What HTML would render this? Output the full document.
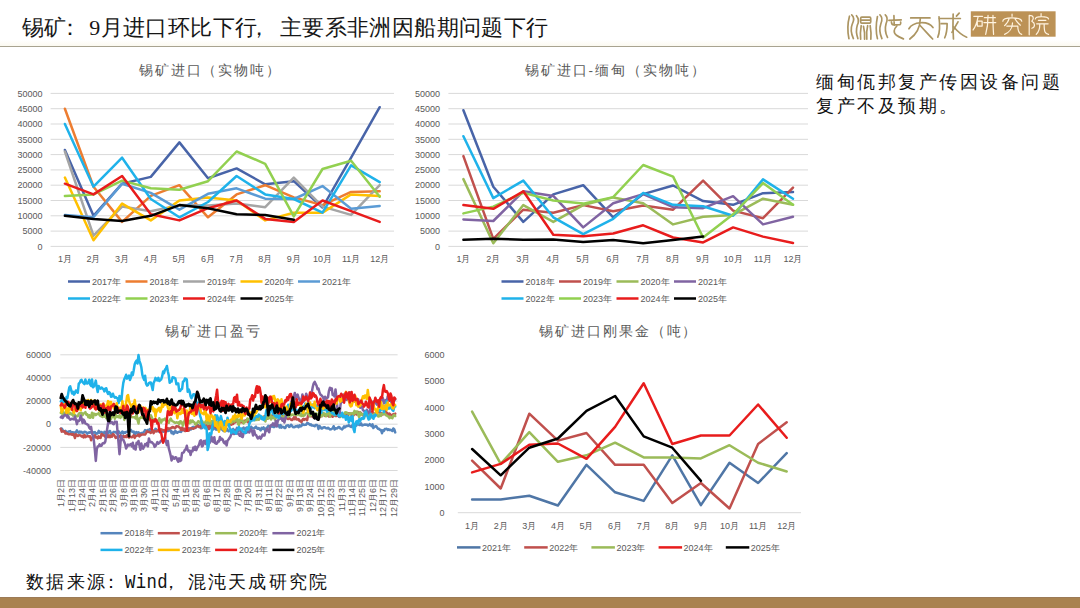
<!DOCTYPE html>
<html><head><meta charset="utf-8"><style>
html,body{margin:0;padding:0;background:#fff;}
body{width:1080px;height:608px;overflow:hidden;position:relative;}
.title{position:absolute;left:22px;top:12.5px;font-family:"Liberation Serif",serif;font-size:22px;line-height:30px;color:#161616;letter-spacing:0.4px;white-space:nowrap;}
.rule{position:absolute;left:0;top:45.5px;width:1080px;height:1.6px;background:#A8A390;}
.note{position:absolute;left:816px;top:69.5px;font-family:"Liberation Serif",serif;font-size:18px;line-height:24px;color:#111;letter-spacing:2.55px;white-space:nowrap;}
.src{position:absolute;left:25.5px;top:569px;font-family:"Liberation Serif",serif;font-size:18px;line-height:26px;color:#111;letter-spacing:2.6px;white-space:nowrap;}
.bar{position:absolute;left:0;top:596.5px;width:1080px;height:11.5px;background:#A98250;border-top:1px solid #9C7B57;box-sizing:border-box;}
.band{position:absolute;left:0;top:40px;width:1080px;height:5.5px;background:linear-gradient(#fff,#FBF9F0);}
svg{position:absolute;left:0;top:0;}
.w{font-family:"Liberation Mono",monospace;font-size:16.5px;letter-spacing:0.3px;display:inline-block;transform:scale(1.05,1.2);transform-origin:0% 70%;}
</style></head><body>
<div class="title">锡矿<span style="margin-left:-8px;margin-right:8px">：</span>9月进口环比下行<span style="margin-left:-9px;margin-right:9px">，</span>主要系非洲因船期问题下行</div>
<div class="band"></div><div class="rule"></div>
<div class="note">缅甸佤邦复产传因设备问题<br>复产不及预期。</div>
<div class="src" style="left:25.5px;letter-spacing:2.5px">数据来源</div><div class="src" id="colon" style="left:101.5px">：</div><div class="src" style="left:124.5px"><span class="w">Wind</span></div><div class="src" id="comma" style="left:161.5px">，</div><div class="src" style="left:187.5px;letter-spacing:2.3px">混沌天成研究院</div>
<div class="bar"></div>
<svg width="1080" height="608" viewBox="0 0 1080 608">
<line x1="50.6" y1="246.4" x2="394.0" y2="246.4" stroke="#D9D9D9" stroke-width="1"/>
<text x="42.5" y="249.6" font-size="9" text-anchor="end" fill="#595959" font-family='"Liberation Sans", sans-serif' >0</text>
<line x1="50.6" y1="231.1" x2="394.0" y2="231.1" stroke="#D9D9D9" stroke-width="1"/>
<text x="42.5" y="234.3" font-size="9" text-anchor="end" fill="#595959" font-family='"Liberation Sans", sans-serif' >5000</text>
<line x1="50.6" y1="215.8" x2="394.0" y2="215.8" stroke="#D9D9D9" stroke-width="1"/>
<text x="42.5" y="219.0" font-size="9" text-anchor="end" fill="#595959" font-family='"Liberation Sans", sans-serif' >10000</text>
<line x1="50.6" y1="200.5" x2="394.0" y2="200.5" stroke="#D9D9D9" stroke-width="1"/>
<text x="42.5" y="203.7" font-size="9" text-anchor="end" fill="#595959" font-family='"Liberation Sans", sans-serif' >15000</text>
<line x1="50.6" y1="185.2" x2="394.0" y2="185.2" stroke="#D9D9D9" stroke-width="1"/>
<text x="42.5" y="188.4" font-size="9" text-anchor="end" fill="#595959" font-family='"Liberation Sans", sans-serif' >20000</text>
<line x1="50.6" y1="169.9" x2="394.0" y2="169.9" stroke="#D9D9D9" stroke-width="1"/>
<text x="42.5" y="173.1" font-size="9" text-anchor="end" fill="#595959" font-family='"Liberation Sans", sans-serif' >25000</text>
<line x1="50.6" y1="154.6" x2="394.0" y2="154.6" stroke="#D9D9D9" stroke-width="1"/>
<text x="42.5" y="157.8" font-size="9" text-anchor="end" fill="#595959" font-family='"Liberation Sans", sans-serif' >30000</text>
<line x1="50.6" y1="139.3" x2="394.0" y2="139.3" stroke="#D9D9D9" stroke-width="1"/>
<text x="42.5" y="142.5" font-size="9" text-anchor="end" fill="#595959" font-family='"Liberation Sans", sans-serif' >35000</text>
<line x1="50.6" y1="124.0" x2="394.0" y2="124.0" stroke="#D9D9D9" stroke-width="1"/>
<text x="42.5" y="127.2" font-size="9" text-anchor="end" fill="#595959" font-family='"Liberation Sans", sans-serif' >40000</text>
<line x1="50.6" y1="108.7" x2="394.0" y2="108.7" stroke="#D9D9D9" stroke-width="1"/>
<text x="42.5" y="111.9" font-size="9" text-anchor="end" fill="#595959" font-family='"Liberation Sans", sans-serif' >45000</text>
<line x1="50.6" y1="93.4" x2="394.0" y2="93.4" stroke="#D9D9D9" stroke-width="1"/>
<text x="42.5" y="96.6" font-size="9" text-anchor="end" fill="#595959" font-family='"Liberation Sans", sans-serif' >50000</text>
<text x="64.9" y="261.8" font-size="9" text-anchor="middle" fill="#595959" font-family='"Liberation Sans", sans-serif' >1月</text>
<text x="93.5" y="261.8" font-size="9" text-anchor="middle" fill="#595959" font-family='"Liberation Sans", sans-serif' >2月</text>
<text x="122.1" y="261.8" font-size="9" text-anchor="middle" fill="#595959" font-family='"Liberation Sans", sans-serif' >3月</text>
<text x="150.8" y="261.8" font-size="9" text-anchor="middle" fill="#595959" font-family='"Liberation Sans", sans-serif' >4月</text>
<text x="179.4" y="261.8" font-size="9" text-anchor="middle" fill="#595959" font-family='"Liberation Sans", sans-serif' >5月</text>
<text x="208.0" y="261.8" font-size="9" text-anchor="middle" fill="#595959" font-family='"Liberation Sans", sans-serif' >6月</text>
<text x="236.6" y="261.8" font-size="9" text-anchor="middle" fill="#595959" font-family='"Liberation Sans", sans-serif' >7月</text>
<text x="265.2" y="261.8" font-size="9" text-anchor="middle" fill="#595959" font-family='"Liberation Sans", sans-serif' >8月</text>
<text x="293.8" y="261.8" font-size="9" text-anchor="middle" fill="#595959" font-family='"Liberation Sans", sans-serif' >9月</text>
<text x="322.5" y="261.8" font-size="9" text-anchor="middle" fill="#595959" font-family='"Liberation Sans", sans-serif' >10月</text>
<text x="351.1" y="261.8" font-size="9" text-anchor="middle" fill="#595959" font-family='"Liberation Sans", sans-serif' >11月</text>
<text x="379.7" y="261.8" font-size="9" text-anchor="middle" fill="#595959" font-family='"Liberation Sans", sans-serif' >12月</text>
<polyline points="64.9,150.0 93.5,215.8 122.1,183.7 150.8,176.9 179.4,142.4 208.0,178.2 236.6,168.4 265.2,184.3 293.8,181.2 322.5,207.5 351.1,157.7 379.7,107.2" fill="none" stroke="#4864A8" stroke-width="2.5" stroke-linejoin="round" stroke-linecap="round"/>
<polyline points="64.9,108.7 93.5,186.7 122.1,221.9 150.8,195.9 179.4,185.2 208.0,217.3 236.6,194.4 265.2,185.2 293.8,197.4 322.5,205.1 351.1,191.9 379.7,191.3" fill="none" stroke="#ED7D31" stroke-width="2.5" stroke-linejoin="round" stroke-linecap="round"/>
<polyline points="64.9,151.5 93.5,235.7 122.1,206.6 150.8,211.2 179.4,205.1 208.0,205.4 236.6,203.6 265.2,207.2 293.8,177.6 322.5,206.6 351.1,214.9 379.7,185.2" fill="none" stroke="#A5A5A5" stroke-width="2.5" stroke-linejoin="round" stroke-linecap="round"/>
<polyline points="64.9,177.6 93.5,240.3 122.1,203.6 150.8,220.4 179.4,200.5 208.0,197.4 236.6,200.5 265.2,220.4 293.8,212.7 322.5,212.7 351.1,194.4 379.7,195.9" fill="none" stroke="#FFC000" stroke-width="2.5" stroke-linejoin="round" stroke-linecap="round"/>
<polyline points="64.9,214.9 93.5,217.3 122.1,183.7 150.8,192.9 179.4,209.7 208.0,193.8 236.6,188.3 265.2,198.7 293.8,199.0 322.5,186.1 351.1,208.8 379.7,206.0" fill="none" stroke="#5B9BD5" stroke-width="2.5" stroke-linejoin="round" stroke-linecap="round"/>
<polyline points="64.9,124.0 93.5,186.7 122.1,157.7 150.8,199.0 179.4,217.3 208.0,202.0 236.6,176.0 265.2,194.4 293.8,199.0 322.5,212.7 351.1,165.3 379.7,182.1" fill="none" stroke="#1FB2EA" stroke-width="2.5" stroke-linejoin="round" stroke-linecap="round"/>
<polyline points="64.9,195.9 93.5,194.4 122.1,180.6 150.8,188.3 179.4,189.8 208.0,181.2 236.6,151.5 265.2,163.8 293.8,216.4 322.5,169.0 351.1,160.7 379.7,196.8" fill="none" stroke="#92D050" stroke-width="2.5" stroke-linejoin="round" stroke-linecap="round"/>
<polyline points="64.9,183.7 93.5,194.4 122.1,176.0 150.8,214.3 179.4,220.4 208.0,208.2 236.6,200.5 265.2,218.9 293.8,221.9 322.5,200.5 351.1,211.2 379.7,221.9" fill="none" stroke="#E81C1C" stroke-width="2.5" stroke-linejoin="round" stroke-linecap="round"/>
<polyline points="64.9,215.8 93.5,218.9 122.1,221.0 150.8,215.8 179.4,205.1 208.0,208.2 236.6,214.3 265.2,214.9 293.8,219.8" fill="none" stroke="#000000" stroke-width="2.5" stroke-linejoin="round" stroke-linecap="round"/>
<text x="139.0" y="75.0" font-size="13.5" text-anchor="start" fill="#595959" font-family='"Liberation Sans", sans-serif' letter-spacing="1.85">锡矿进口（实物吨）</text>
<line x1="68.0" y1="281.5" x2="90.0" y2="281.5" stroke="#4864A8" stroke-width="2.5"/>
<text x="92.0" y="284.7" font-size="9" text-anchor="start" fill="#595959" font-family='"Liberation Sans", sans-serif' >2017年</text>
<line x1="125.5" y1="281.5" x2="147.5" y2="281.5" stroke="#ED7D31" stroke-width="2.5"/>
<text x="149.5" y="284.7" font-size="9" text-anchor="start" fill="#595959" font-family='"Liberation Sans", sans-serif' >2018年</text>
<line x1="183.0" y1="281.5" x2="205.0" y2="281.5" stroke="#A5A5A5" stroke-width="2.5"/>
<text x="207.0" y="284.7" font-size="9" text-anchor="start" fill="#595959" font-family='"Liberation Sans", sans-serif' >2019年</text>
<line x1="240.5" y1="281.5" x2="262.5" y2="281.5" stroke="#FFC000" stroke-width="2.5"/>
<text x="264.5" y="284.7" font-size="9" text-anchor="start" fill="#595959" font-family='"Liberation Sans", sans-serif' >2020年</text>
<line x1="298.0" y1="281.5" x2="320.0" y2="281.5" stroke="#5B9BD5" stroke-width="2.5"/>
<text x="322.0" y="284.7" font-size="9" text-anchor="start" fill="#595959" font-family='"Liberation Sans", sans-serif' >2021年</text>
<line x1="68.0" y1="298.5" x2="90.0" y2="298.5" stroke="#1FB2EA" stroke-width="2.5"/>
<text x="92.0" y="301.7" font-size="9" text-anchor="start" fill="#595959" font-family='"Liberation Sans", sans-serif' >2022年</text>
<line x1="125.5" y1="298.5" x2="147.5" y2="298.5" stroke="#92D050" stroke-width="2.5"/>
<text x="149.5" y="301.7" font-size="9" text-anchor="start" fill="#595959" font-family='"Liberation Sans", sans-serif' >2023年</text>
<line x1="183.0" y1="298.5" x2="205.0" y2="298.5" stroke="#E81C1C" stroke-width="2.5"/>
<text x="207.0" y="301.7" font-size="9" text-anchor="start" fill="#595959" font-family='"Liberation Sans", sans-serif' >2024年</text>
<line x1="240.5" y1="298.5" x2="262.5" y2="298.5" stroke="#000000" stroke-width="2.5"/>
<text x="264.5" y="301.7" font-size="9" text-anchor="start" fill="#595959" font-family='"Liberation Sans", sans-serif' >2025年</text>
<line x1="448.4" y1="246.4" x2="808.0" y2="246.4" stroke="#D9D9D9" stroke-width="1"/>
<text x="440.0" y="249.6" font-size="9" text-anchor="end" fill="#595959" font-family='"Liberation Sans", sans-serif' >0</text>
<line x1="448.4" y1="231.1" x2="808.0" y2="231.1" stroke="#D9D9D9" stroke-width="1"/>
<text x="440.0" y="234.3" font-size="9" text-anchor="end" fill="#595959" font-family='"Liberation Sans", sans-serif' >5000</text>
<line x1="448.4" y1="215.8" x2="808.0" y2="215.8" stroke="#D9D9D9" stroke-width="1"/>
<text x="440.0" y="219.0" font-size="9" text-anchor="end" fill="#595959" font-family='"Liberation Sans", sans-serif' >10000</text>
<line x1="448.4" y1="200.5" x2="808.0" y2="200.5" stroke="#D9D9D9" stroke-width="1"/>
<text x="440.0" y="203.7" font-size="9" text-anchor="end" fill="#595959" font-family='"Liberation Sans", sans-serif' >15000</text>
<line x1="448.4" y1="185.2" x2="808.0" y2="185.2" stroke="#D9D9D9" stroke-width="1"/>
<text x="440.0" y="188.4" font-size="9" text-anchor="end" fill="#595959" font-family='"Liberation Sans", sans-serif' >20000</text>
<line x1="448.4" y1="169.9" x2="808.0" y2="169.9" stroke="#D9D9D9" stroke-width="1"/>
<text x="440.0" y="173.1" font-size="9" text-anchor="end" fill="#595959" font-family='"Liberation Sans", sans-serif' >25000</text>
<line x1="448.4" y1="154.6" x2="808.0" y2="154.6" stroke="#D9D9D9" stroke-width="1"/>
<text x="440.0" y="157.8" font-size="9" text-anchor="end" fill="#595959" font-family='"Liberation Sans", sans-serif' >30000</text>
<line x1="448.4" y1="139.3" x2="808.0" y2="139.3" stroke="#D9D9D9" stroke-width="1"/>
<text x="440.0" y="142.5" font-size="9" text-anchor="end" fill="#595959" font-family='"Liberation Sans", sans-serif' >35000</text>
<line x1="448.4" y1="124.0" x2="808.0" y2="124.0" stroke="#D9D9D9" stroke-width="1"/>
<text x="440.0" y="127.2" font-size="9" text-anchor="end" fill="#595959" font-family='"Liberation Sans", sans-serif' >40000</text>
<line x1="448.4" y1="108.7" x2="808.0" y2="108.7" stroke="#D9D9D9" stroke-width="1"/>
<text x="440.0" y="111.9" font-size="9" text-anchor="end" fill="#595959" font-family='"Liberation Sans", sans-serif' >45000</text>
<line x1="448.4" y1="93.4" x2="808.0" y2="93.4" stroke="#D9D9D9" stroke-width="1"/>
<text x="440.0" y="96.6" font-size="9" text-anchor="end" fill="#595959" font-family='"Liberation Sans", sans-serif' >50000</text>
<text x="463.4" y="261.8" font-size="9" text-anchor="middle" fill="#595959" font-family='"Liberation Sans", sans-serif' >1月</text>
<text x="493.3" y="261.8" font-size="9" text-anchor="middle" fill="#595959" font-family='"Liberation Sans", sans-serif' >2月</text>
<text x="523.3" y="261.8" font-size="9" text-anchor="middle" fill="#595959" font-family='"Liberation Sans", sans-serif' >3月</text>
<text x="553.3" y="261.8" font-size="9" text-anchor="middle" fill="#595959" font-family='"Liberation Sans", sans-serif' >4月</text>
<text x="583.2" y="261.8" font-size="9" text-anchor="middle" fill="#595959" font-family='"Liberation Sans", sans-serif' >5月</text>
<text x="613.2" y="261.8" font-size="9" text-anchor="middle" fill="#595959" font-family='"Liberation Sans", sans-serif' >6月</text>
<text x="643.2" y="261.8" font-size="9" text-anchor="middle" fill="#595959" font-family='"Liberation Sans", sans-serif' >7月</text>
<text x="673.1" y="261.8" font-size="9" text-anchor="middle" fill="#595959" font-family='"Liberation Sans", sans-serif' >8月</text>
<text x="703.1" y="261.8" font-size="9" text-anchor="middle" fill="#595959" font-family='"Liberation Sans", sans-serif' >9月</text>
<text x="733.1" y="261.8" font-size="9" text-anchor="middle" fill="#595959" font-family='"Liberation Sans", sans-serif' >10月</text>
<text x="763.0" y="261.8" font-size="9" text-anchor="middle" fill="#595959" font-family='"Liberation Sans", sans-serif' >11月</text>
<text x="793.0" y="261.8" font-size="9" text-anchor="middle" fill="#595959" font-family='"Liberation Sans", sans-serif' >12月</text>
<polyline points="463.4,110.2 493.3,186.7 523.3,221.9 553.3,194.4 583.2,185.2 613.2,217.3 643.2,194.1 673.1,185.5 703.1,201.1 733.1,204.8 763.0,193.2 793.0,191.9" fill="none" stroke="#4864A8" stroke-width="2.5" stroke-linejoin="round" stroke-linecap="round"/>
<polyline points="463.4,156.1 493.3,238.8 523.3,209.7 553.3,212.7 583.2,205.1 613.2,211.2 643.2,205.4 673.1,209.7 703.1,180.6 733.1,210.6 763.0,218.2 793.0,187.6" fill="none" stroke="#C0504D" stroke-width="2.5" stroke-linejoin="round" stroke-linecap="round"/>
<polyline points="463.4,179.1 493.3,243.3 523.3,205.1 553.3,221.9 583.2,205.1 613.2,197.4 643.2,203.3 673.1,224.4 703.1,216.7 733.1,214.9 763.0,198.7 793.0,204.8" fill="none" stroke="#9BBB59" stroke-width="2.5" stroke-linejoin="round" stroke-linecap="round"/>
<polyline points="463.4,219.5 493.3,221.0 523.3,191.3 553.3,195.9 583.2,227.4 613.2,203.3 643.2,194.1 673.1,207.2 703.1,208.2 733.1,196.2 763.0,224.4 793.0,216.7" fill="none" stroke="#8064A2" stroke-width="2.5" stroke-linejoin="round" stroke-linecap="round"/>
<polyline points="463.4,136.2 493.3,198.1 523.3,180.6 553.3,217.3 583.2,234.2 613.2,218.9 643.2,192.9 673.1,204.8 703.1,206.3 733.1,215.8 763.0,179.4 793.0,198.7" fill="none" stroke="#1FB2EA" stroke-width="2.5" stroke-linejoin="round" stroke-linecap="round"/>
<polyline points="463.4,213.4 493.3,206.6 523.3,192.9 553.3,200.5 583.2,203.6 613.2,197.1 643.2,165.0 673.1,176.6 703.1,237.5 733.1,214.3 763.0,183.1 793.0,204.8" fill="none" stroke="#92D050" stroke-width="2.5" stroke-linejoin="round" stroke-linecap="round"/>
<polyline points="463.4,205.1 493.3,208.8 523.3,191.3 553.3,234.8 583.2,236.3 613.2,233.5 643.2,225.3 673.1,237.5 703.1,242.4 733.1,227.4 763.0,236.6 793.0,243.0" fill="none" stroke="#E81C1C" stroke-width="2.5" stroke-linejoin="round" stroke-linecap="round"/>
<polyline points="463.4,239.7 493.3,238.8 523.3,239.7 553.3,239.4 583.2,242.1 613.2,240.0 643.2,243.3 673.1,240.0 703.1,236.6" fill="none" stroke="#000000" stroke-width="2.5" stroke-linejoin="round" stroke-linecap="round"/>
<text x="524.5" y="75.0" font-size="13.5" text-anchor="start" fill="#595959" font-family='"Liberation Sans", sans-serif' letter-spacing="2.0">锡矿进口-缅甸（实物吨）</text>
<line x1="501.5" y1="281.5" x2="523.5" y2="281.5" stroke="#4864A8" stroke-width="2.5"/>
<text x="525.5" y="284.7" font-size="9" text-anchor="start" fill="#595959" font-family='"Liberation Sans", sans-serif' >2018年</text>
<line x1="559.0" y1="281.5" x2="581.0" y2="281.5" stroke="#C0504D" stroke-width="2.5"/>
<text x="583.0" y="284.7" font-size="9" text-anchor="start" fill="#595959" font-family='"Liberation Sans", sans-serif' >2019年</text>
<line x1="616.5" y1="281.5" x2="638.5" y2="281.5" stroke="#9BBB59" stroke-width="2.5"/>
<text x="640.5" y="284.7" font-size="9" text-anchor="start" fill="#595959" font-family='"Liberation Sans", sans-serif' >2020年</text>
<line x1="674.0" y1="281.5" x2="696.0" y2="281.5" stroke="#8064A2" stroke-width="2.5"/>
<text x="698.0" y="284.7" font-size="9" text-anchor="start" fill="#595959" font-family='"Liberation Sans", sans-serif' >2021年</text>
<line x1="501.5" y1="298.5" x2="523.5" y2="298.5" stroke="#1FB2EA" stroke-width="2.5"/>
<text x="525.5" y="301.7" font-size="9" text-anchor="start" fill="#595959" font-family='"Liberation Sans", sans-serif' >2022年</text>
<line x1="559.0" y1="298.5" x2="581.0" y2="298.5" stroke="#92D050" stroke-width="2.5"/>
<text x="583.0" y="301.7" font-size="9" text-anchor="start" fill="#595959" font-family='"Liberation Sans", sans-serif' >2023年</text>
<line x1="616.5" y1="298.5" x2="638.5" y2="298.5" stroke="#E81C1C" stroke-width="2.5"/>
<text x="640.5" y="301.7" font-size="9" text-anchor="start" fill="#595959" font-family='"Liberation Sans", sans-serif' >2024年</text>
<line x1="674.0" y1="298.5" x2="696.0" y2="298.5" stroke="#000000" stroke-width="2.5"/>
<text x="698.0" y="301.7" font-size="9" text-anchor="start" fill="#595959" font-family='"Liberation Sans", sans-serif' >2025年</text>
<text x="444.6" y="515.9" font-size="9" text-anchor="end" fill="#595959" font-family='"Liberation Sans", sans-serif' >0</text>
<text x="444.6" y="489.6" font-size="9" text-anchor="end" fill="#595959" font-family='"Liberation Sans", sans-serif' >1000</text>
<text x="444.6" y="463.3" font-size="9" text-anchor="end" fill="#595959" font-family='"Liberation Sans", sans-serif' >2000</text>
<text x="444.6" y="436.9" font-size="9" text-anchor="end" fill="#595959" font-family='"Liberation Sans", sans-serif' >3000</text>
<text x="444.6" y="410.6" font-size="9" text-anchor="end" fill="#595959" font-family='"Liberation Sans", sans-serif' >4000</text>
<text x="444.6" y="384.3" font-size="9" text-anchor="end" fill="#595959" font-family='"Liberation Sans", sans-serif' >5000</text>
<text x="444.6" y="358.0" font-size="9" text-anchor="end" fill="#595959" font-family='"Liberation Sans", sans-serif' >6000</text>
<line x1="457.8" y1="512.7" x2="801.0" y2="512.7" stroke="#D9D9D9" stroke-width="1"/>
<text x="472.1" y="529.2" font-size="9" text-anchor="middle" fill="#595959" font-family='"Liberation Sans", sans-serif' >1月</text>
<text x="500.7" y="529.2" font-size="9" text-anchor="middle" fill="#595959" font-family='"Liberation Sans", sans-serif' >2月</text>
<text x="529.3" y="529.2" font-size="9" text-anchor="middle" fill="#595959" font-family='"Liberation Sans", sans-serif' >3月</text>
<text x="557.9" y="529.2" font-size="9" text-anchor="middle" fill="#595959" font-family='"Liberation Sans", sans-serif' >4月</text>
<text x="586.5" y="529.2" font-size="9" text-anchor="middle" fill="#595959" font-family='"Liberation Sans", sans-serif' >5月</text>
<text x="615.1" y="529.2" font-size="9" text-anchor="middle" fill="#595959" font-family='"Liberation Sans", sans-serif' >6月</text>
<text x="643.7" y="529.2" font-size="9" text-anchor="middle" fill="#595959" font-family='"Liberation Sans", sans-serif' >7月</text>
<text x="672.3" y="529.2" font-size="9" text-anchor="middle" fill="#595959" font-family='"Liberation Sans", sans-serif' >8月</text>
<text x="700.9" y="529.2" font-size="9" text-anchor="middle" fill="#595959" font-family='"Liberation Sans", sans-serif' >9月</text>
<text x="729.5" y="529.2" font-size="9" text-anchor="middle" fill="#595959" font-family='"Liberation Sans", sans-serif' >10月</text>
<text x="758.1" y="529.2" font-size="9" text-anchor="middle" fill="#595959" font-family='"Liberation Sans", sans-serif' >11月</text>
<text x="786.7" y="529.2" font-size="9" text-anchor="middle" fill="#595959" font-family='"Liberation Sans", sans-serif' >12月</text>
<polyline points="472.1,499.5 500.7,499.5 529.3,495.7 557.9,505.5 586.5,464.8 615.1,492.3 643.7,500.9 672.3,455.3 700.9,505.1 729.5,462.7 758.1,483.0 786.7,453.2" fill="none" stroke="#4F76A6" stroke-width="2.5" stroke-linejoin="round" stroke-linecap="round"/>
<polyline points="472.1,460.6 500.7,488.5 529.3,413.7 557.9,440.6 586.5,433.0 615.1,464.8 643.7,464.8 672.3,503.0 700.9,483.0 729.5,508.5 758.1,444.0 786.7,422.3" fill="none" stroke="#C0504D" stroke-width="2.5" stroke-linejoin="round" stroke-linecap="round"/>
<polyline points="472.1,411.6 500.7,463.9 529.3,432.2 557.9,461.8 586.5,455.3 615.1,442.7 643.7,457.4 672.3,457.4 700.9,458.4 729.5,445.2 758.1,462.7 786.7,471.5" fill="none" stroke="#9BBB59" stroke-width="2.5" stroke-linejoin="round" stroke-linecap="round"/>
<polyline points="472.1,472.4 500.7,463.9 529.3,444.8 557.9,443.5 586.5,458.8 615.1,426.9 643.7,383.2 672.3,444.0 700.9,435.5 729.5,435.5 758.1,404.5 786.7,437.7" fill="none" stroke="#E81C1C" stroke-width="2.5" stroke-linejoin="round" stroke-linecap="round"/>
<polyline points="472.1,449.0 500.7,475.3 529.3,447.7 557.9,438.5 586.5,410.9 615.1,396.0 643.7,436.4 672.3,447.7 700.9,480.9" fill="none" stroke="#000000" stroke-width="2.5" stroke-linejoin="round" stroke-linecap="round"/>
<text x="539.4" y="336.3" font-size="13.5" text-anchor="start" fill="#595959" font-family='"Liberation Sans", sans-serif' letter-spacing="1.9">锡矿进口刚果金（吨）</text>
<line x1="457.0" y1="547.4" x2="480.5" y2="547.4" stroke="#4F76A6" stroke-width="2.5"/>
<text x="482.0" y="550.6" font-size="9" text-anchor="start" fill="#595959" font-family='"Liberation Sans", sans-serif' >2021年</text>
<line x1="524.2" y1="547.4" x2="547.7" y2="547.4" stroke="#C0504D" stroke-width="2.5"/>
<text x="549.2" y="550.6" font-size="9" text-anchor="start" fill="#595959" font-family='"Liberation Sans", sans-serif' >2022年</text>
<line x1="591.4" y1="547.4" x2="614.9" y2="547.4" stroke="#9BBB59" stroke-width="2.5"/>
<text x="616.4" y="550.6" font-size="9" text-anchor="start" fill="#595959" font-family='"Liberation Sans", sans-serif' >2023年</text>
<line x1="658.6" y1="547.4" x2="682.1" y2="547.4" stroke="#E81C1C" stroke-width="2.5"/>
<text x="683.6" y="550.6" font-size="9" text-anchor="start" fill="#595959" font-family='"Liberation Sans", sans-serif' >2024年</text>
<line x1="725.8" y1="547.4" x2="749.3" y2="547.4" stroke="#000000" stroke-width="2.5"/>
<text x="750.8" y="550.6" font-size="9" text-anchor="start" fill="#595959" font-family='"Liberation Sans", sans-serif' >2025年</text>
<line x1="60.3" y1="354.8" x2="397.6" y2="354.8" stroke="#D9D9D9" stroke-width="1"/>
<text x="51.0" y="358.0" font-size="9" text-anchor="end" fill="#595959" font-family='"Liberation Sans", sans-serif' >60000</text>
<line x1="60.3" y1="377.9" x2="397.6" y2="377.9" stroke="#D9D9D9" stroke-width="1"/>
<text x="51.0" y="381.1" font-size="9" text-anchor="end" fill="#595959" font-family='"Liberation Sans", sans-serif' >40000</text>
<line x1="60.3" y1="401.1" x2="397.6" y2="401.1" stroke="#D9D9D9" stroke-width="1"/>
<text x="51.0" y="404.3" font-size="9" text-anchor="end" fill="#595959" font-family='"Liberation Sans", sans-serif' >20000</text>
<line x1="60.3" y1="424.2" x2="397.6" y2="424.2" stroke="#D9D9D9" stroke-width="1"/>
<text x="51.0" y="427.4" font-size="9" text-anchor="end" fill="#595959" font-family='"Liberation Sans", sans-serif' >0</text>
<line x1="60.3" y1="447.4" x2="397.6" y2="447.4" stroke="#D9D9D9" stroke-width="1"/>
<text x="51.0" y="450.6" font-size="9" text-anchor="end" fill="#595959" font-family='"Liberation Sans", sans-serif' >-20000</text>
<line x1="60.3" y1="470.5" x2="397.6" y2="470.5" stroke="#D9D9D9" stroke-width="1"/>
<text x="51.0" y="473.7" font-size="9" text-anchor="end" fill="#595959" font-family='"Liberation Sans", sans-serif' >-40000</text>
<text transform="translate(64.3,479) rotate(-90)" font-size="9" text-anchor="end" fill="#595959" font-family='"Liberation Sans", sans-serif'>1月2日</text>
<text transform="translate(74.7,479) rotate(-90)" font-size="9" text-anchor="end" fill="#595959" font-family='"Liberation Sans", sans-serif'>1月13日</text>
<text transform="translate(85.1,479) rotate(-90)" font-size="9" text-anchor="end" fill="#595959" font-family='"Liberation Sans", sans-serif'>1月24日</text>
<text transform="translate(95.4,479) rotate(-90)" font-size="9" text-anchor="end" fill="#595959" font-family='"Liberation Sans", sans-serif'>2月4日</text>
<text transform="translate(105.8,479) rotate(-90)" font-size="9" text-anchor="end" fill="#595959" font-family='"Liberation Sans", sans-serif'>2月15日</text>
<text transform="translate(116.2,479) rotate(-90)" font-size="9" text-anchor="end" fill="#595959" font-family='"Liberation Sans", sans-serif'>2月26日</text>
<text transform="translate(126.6,479) rotate(-90)" font-size="9" text-anchor="end" fill="#595959" font-family='"Liberation Sans", sans-serif'>3月8日</text>
<text transform="translate(137.0,479) rotate(-90)" font-size="9" text-anchor="end" fill="#595959" font-family='"Liberation Sans", sans-serif'>3月19日</text>
<text transform="translate(147.3,479) rotate(-90)" font-size="9" text-anchor="end" fill="#595959" font-family='"Liberation Sans", sans-serif'>3月30日</text>
<text transform="translate(157.7,479) rotate(-90)" font-size="9" text-anchor="end" fill="#595959" font-family='"Liberation Sans", sans-serif'>4月11日</text>
<text transform="translate(168.1,479) rotate(-90)" font-size="9" text-anchor="end" fill="#595959" font-family='"Liberation Sans", sans-serif'>4月22日</text>
<text transform="translate(178.5,479) rotate(-90)" font-size="9" text-anchor="end" fill="#595959" font-family='"Liberation Sans", sans-serif'>5月4日</text>
<text transform="translate(188.9,479) rotate(-90)" font-size="9" text-anchor="end" fill="#595959" font-family='"Liberation Sans", sans-serif'>5月15日</text>
<text transform="translate(199.3,479) rotate(-90)" font-size="9" text-anchor="end" fill="#595959" font-family='"Liberation Sans", sans-serif'>5月26日</text>
<text transform="translate(209.6,479) rotate(-90)" font-size="9" text-anchor="end" fill="#595959" font-family='"Liberation Sans", sans-serif'>6月6日</text>
<text transform="translate(220.0,479) rotate(-90)" font-size="9" text-anchor="end" fill="#595959" font-family='"Liberation Sans", sans-serif'>6月17日</text>
<text transform="translate(230.4,479) rotate(-90)" font-size="9" text-anchor="end" fill="#595959" font-family='"Liberation Sans", sans-serif'>6月28日</text>
<text transform="translate(240.8,479) rotate(-90)" font-size="9" text-anchor="end" fill="#595959" font-family='"Liberation Sans", sans-serif'>7月9日</text>
<text transform="translate(251.2,479) rotate(-90)" font-size="9" text-anchor="end" fill="#595959" font-family='"Liberation Sans", sans-serif'>7月20日</text>
<text transform="translate(261.5,479) rotate(-90)" font-size="9" text-anchor="end" fill="#595959" font-family='"Liberation Sans", sans-serif'>7月31日</text>
<text transform="translate(271.9,479) rotate(-90)" font-size="9" text-anchor="end" fill="#595959" font-family='"Liberation Sans", sans-serif'>8月11日</text>
<text transform="translate(282.3,479) rotate(-90)" font-size="9" text-anchor="end" fill="#595959" font-family='"Liberation Sans", sans-serif'>8月22日</text>
<text transform="translate(292.7,479) rotate(-90)" font-size="9" text-anchor="end" fill="#595959" font-family='"Liberation Sans", sans-serif'>9月2日</text>
<text transform="translate(303.1,479) rotate(-90)" font-size="9" text-anchor="end" fill="#595959" font-family='"Liberation Sans", sans-serif'>9月13日</text>
<text transform="translate(313.4,479) rotate(-90)" font-size="9" text-anchor="end" fill="#595959" font-family='"Liberation Sans", sans-serif'>9月24日</text>
<text transform="translate(323.8,479) rotate(-90)" font-size="9" text-anchor="end" fill="#595959" font-family='"Liberation Sans", sans-serif'>10月12日</text>
<text transform="translate(334.2,479) rotate(-90)" font-size="9" text-anchor="end" fill="#595959" font-family='"Liberation Sans", sans-serif'>10月23日</text>
<text transform="translate(344.6,479) rotate(-90)" font-size="9" text-anchor="end" fill="#595959" font-family='"Liberation Sans", sans-serif'>11月3日</text>
<text transform="translate(355.0,479) rotate(-90)" font-size="9" text-anchor="end" fill="#595959" font-family='"Liberation Sans", sans-serif'>11月14日</text>
<text transform="translate(365.4,479) rotate(-90)" font-size="9" text-anchor="end" fill="#595959" font-family='"Liberation Sans", sans-serif'>11月25日</text>
<text transform="translate(375.7,479) rotate(-90)" font-size="9" text-anchor="end" fill="#595959" font-family='"Liberation Sans", sans-serif'>12月6日</text>
<text transform="translate(386.1,479) rotate(-90)" font-size="9" text-anchor="end" fill="#595959" font-family='"Liberation Sans", sans-serif'>12月17日</text>
<text transform="translate(396.5,479) rotate(-90)" font-size="9" text-anchor="end" fill="#595959" font-family='"Liberation Sans", sans-serif'>12月29日</text>
<text x="165.3" y="336.3" font-size="13.5" text-anchor="start" fill="#595959" font-family='"Liberation Sans", sans-serif' letter-spacing="2.1">锡矿进口盈亏</text>
<polyline points="60.8,428.6 61.7,428.4 62.7,429.9 63.6,431.1 64.6,431.8 65.5,430.9 66.5,432.0 67.4,432.7 68.4,431.4 69.3,431.4 70.2,431.1 71.2,432.7 72.1,432.2 73.1,432.3 74.0,433.9 75.0,432.3 75.9,432.4 76.9,430.4 77.8,432.2 78.8,432.8 79.7,431.6 80.7,432.4 81.6,431.8 82.6,433.0 83.5,432.6 84.5,431.7 85.4,431.9 86.4,432.5 87.3,433.8 88.3,432.5 89.2,432.7 90.1,432.1 91.1,432.5 92.0,431.7 93.0,432.7 93.9,432.6 94.9,432.1 95.8,433.8 96.8,433.3 97.7,433.4 98.7,430.9 99.6,432.6 100.6,432.1 101.5,432.0 102.5,432.9 103.4,434.2 104.4,431.9 105.3,432.9 106.3,431.9 107.2,433.8 108.1,433.2 109.1,431.4 110.0,431.0 111.0,433.6 111.9,434.0 112.9,432.7 113.8,431.8 114.8,432.2 115.7,432.1 116.7,433.3 117.6,431.9 118.6,431.2 119.5,432.6 120.5,433.8 121.4,433.2 122.4,431.5 123.3,433.6 124.3,432.2 125.2,432.8 126.1,431.9 127.1,431.8 128.0,431.4 129.0,429.8 129.9,430.5 130.9,429.9 131.8,431.4 132.8,432.1 133.7,431.5 134.7,434.7 135.6,432.5 136.6,432.1 137.5,433.6 138.5,432.3 139.4,433.2 140.4,435.2 141.3,433.0 142.3,433.1 143.2,432.5 144.2,431.8 145.1,430.0 146.0,430.6 147.0,430.6 147.9,429.9 148.9,431.8 149.8,429.1 150.8,431.1 151.7,430.0 152.7,431.4 153.6,431.6 154.6,431.1 155.5,428.8 156.5,429.6 157.4,431.0 158.4,430.9 159.3,431.8 160.3,430.8 161.2,431.2 162.2,430.0 163.1,431.8 164.0,431.1 165.0,431.5 165.9,431.6 166.9,430.4 167.8,430.9 168.8,430.7 169.7,430.3 170.7,430.4 171.6,433.1 172.6,431.7 173.5,434.0 174.5,432.8 175.4,430.8 176.4,432.6 177.3,432.7 178.3,432.0 179.2,431.8 180.2,431.5 181.1,432.0 182.1,430.0 183.0,429.6 183.9,430.4 184.9,429.8 185.8,429.1 186.8,428.4 187.7,428.7 188.7,428.2 189.6,428.9 190.6,429.6 191.5,429.0 192.5,427.2 193.4,426.8 194.4,427.3 195.3,427.9 196.3,427.0 197.2,425.3 198.2,425.1 199.1,427.0 200.1,426.8 201.0,428.2 201.9,428.2 202.9,427.0 203.8,427.0 204.8,426.2 205.7,425.8 206.7,426.3 207.6,426.0 208.6,427.9 209.5,428.8 210.5,427.5 211.4,425.3 212.4,427.4 213.3,429.4 214.3,428.4 215.2,427.3 216.2,429.7 217.1,428.4 218.1,429.7 219.0,428.2 219.9,428.7 220.9,429.3 221.8,427.9 222.8,430.3 223.7,431.0 224.7,428.8 225.6,431.1 226.6,428.4 227.5,430.1 228.5,431.3 229.4,430.4 230.4,430.0 231.3,429.8 232.3,430.1 233.2,428.9 234.2,432.0 235.1,430.6 236.1,430.1 237.0,427.8 238.0,431.2 238.9,430.0 239.8,430.6 240.8,430.1 241.7,428.7 242.7,428.6 243.6,427.5 244.6,429.3 245.5,428.7 246.5,427.6 247.4,427.6 248.4,428.8 249.3,427.5 250.3,429.3 251.2,426.8 252.2,428.1 253.1,428.6 254.1,428.2 255.0,427.6 256.0,426.6 256.9,428.4 257.8,428.8 258.8,428.0 259.7,429.3 260.7,430.3 261.6,427.9 262.6,428.8 263.5,427.4 264.5,429.2 265.4,431.1 266.4,428.1 267.3,427.5 268.3,425.8 269.2,426.4 270.2,426.5 271.1,426.0 272.1,426.7 273.0,426.1 274.0,427.2 274.9,425.3 275.8,426.2 276.8,426.2 277.7,425.4 278.7,425.3 279.6,427.5 280.6,425.1 281.5,427.6 282.5,426.8 283.4,426.9 284.4,427.9 285.3,428.0 286.3,425.7 287.2,425.6 288.2,425.3 289.1,427.0 290.1,426.5 291.0,424.7 292.0,425.6 292.9,427.1 293.9,427.2 294.8,427.0 295.7,426.2 296.7,426.6 297.6,425.8 298.6,427.3 299.5,425.4 300.5,426.4 301.4,426.0 302.4,423.7 303.3,424.8 304.3,424.9 305.2,424.7 306.2,424.7 307.1,423.0 308.1,423.2 309.0,424.0 310.0,424.9 310.9,424.4 311.9,425.6 312.8,425.5 313.7,425.7 314.7,426.3 315.6,425.0 316.6,424.9 317.5,425.5 318.5,429.0 319.4,426.0 320.4,426.9 321.3,428.4 322.3,428.4 323.2,427.4 324.2,427.2 325.1,427.5 326.1,428.2 327.0,428.4 328.0,427.7 328.9,428.5 329.9,429.4 330.8,429.3 331.8,428.8 332.7,428.2 333.6,426.2 334.6,429.5 335.5,428.2 336.5,428.5 337.4,428.2 338.4,427.1 339.3,427.1 340.3,428.4 341.2,428.7 342.2,429.4 343.1,428.0 344.1,426.3 345.0,427.4 346.0,426.4 346.9,426.0 347.9,426.1 348.8,425.2 349.8,426.1 350.7,426.7 351.6,427.0 352.6,424.7 353.5,425.5 354.5,425.5 355.4,424.3 356.4,425.6 357.3,423.1 358.3,423.7 359.2,424.9 360.2,425.0 361.1,423.3 362.1,425.4 363.0,425.3 364.0,424.7 364.9,424.5 365.9,424.8 366.8,424.6 367.8,425.4 368.7,425.4 369.6,424.1 370.6,424.7 371.5,426.1 372.5,424.4 373.4,428.1 374.4,426.8 375.3,426.3 376.3,426.3 377.2,427.7 378.2,429.0 379.1,428.8 380.1,430.1 381.0,430.1 382.0,433.2 382.9,430.3 383.9,430.9 384.8,429.1 385.8,428.9 386.7,428.7 387.7,429.9 388.6,429.3 389.5,430.1 390.5,429.8 391.4,430.2 392.4,431.0 393.3,428.5 394.3,429.4 395.2,432.4" fill="none" stroke="#5585BD" stroke-width="2.5" stroke-linejoin="round" stroke-linecap="round"/>
<polyline points="60.8,428.7 61.7,431.6 62.7,431.2 63.6,431.6 64.6,431.2 65.5,433.5 66.5,433.1 67.4,433.6 68.4,434.2 69.3,434.3 70.2,434.2 71.2,434.1 72.1,434.9 73.1,434.0 74.0,435.0 75.0,438.0 75.9,434.3 76.9,435.4 77.8,436.0 78.8,435.2 79.7,435.2 80.7,435.4 81.6,436.5 82.6,435.7 83.5,437.4 84.5,434.8 85.4,437.1 86.4,436.5 87.3,436.3 88.3,436.2 89.2,436.7 90.1,436.2 91.1,440.3 92.0,437.6 93.0,437.3 93.9,437.4 94.9,435.4 95.8,437.5 96.8,436.8 97.7,438.5 98.7,436.4 99.6,437.8 100.6,437.9 101.5,433.9 102.5,434.8 103.4,435.6 104.4,435.4 105.3,436.9 106.3,436.6 107.2,435.0 108.1,437.2 109.1,435.3 110.0,437.1 111.0,435.6 111.9,436.7 112.9,434.1 113.8,434.6 114.8,436.2 115.7,438.0 116.7,437.2 117.6,436.5 118.6,437.4 119.5,436.3 120.5,435.6 121.4,436.6 122.4,437.2 123.3,436.2 124.3,437.2 125.2,436.2 126.1,437.1 127.1,435.2 128.0,436.7 129.0,437.6 129.9,436.5 130.9,437.0 131.8,437.2 132.8,436.4 133.7,435.2 134.7,437.9 135.6,436.1 136.6,435.8 137.5,435.6 138.5,434.5 139.4,436.4 140.4,434.6 141.3,435.0 142.3,434.5 143.2,434.6 144.2,434.5 145.1,434.5 146.0,433.3 147.0,431.2 147.9,431.8 148.9,431.9 149.8,432.1 150.8,433.0 151.7,432.0 152.7,430.2 153.6,433.2 154.6,431.4 155.5,430.9 156.5,431.4 157.4,430.9 158.4,430.1 159.3,429.0 160.3,429.7 161.2,429.3 162.2,430.4 163.1,430.0 164.0,430.5 165.0,430.3 165.9,430.7 166.9,429.3 167.8,428.1 168.8,429.2 169.7,428.6 170.7,427.9 171.6,428.1 172.6,426.9 173.5,427.1 174.5,428.3 175.4,428.0 176.4,426.2 177.3,426.4 178.3,426.2 179.2,427.3 180.2,427.8 181.1,430.0 182.1,427.6 183.0,429.9 183.9,428.6 184.9,430.9 185.8,431.0 186.8,430.5 187.7,430.7 188.7,430.7 189.6,428.7 190.6,428.3 191.5,428.2 192.5,428.5 193.4,428.7 194.4,428.1 195.3,427.7 196.3,426.8 197.2,425.6 198.2,426.4 199.1,427.1 200.1,427.1 201.0,425.2 201.9,426.0 202.9,426.0 203.8,426.0 204.8,425.7 205.7,426.1 206.7,425.1 207.6,425.3 208.6,429.0 209.5,426.9 210.5,423.5 211.4,427.2 212.4,426.3 213.3,425.2 214.3,426.1 215.2,425.0 216.2,427.4 217.1,427.7 218.1,426.7 219.0,426.9 219.9,427.1 220.9,425.4 221.8,425.3 222.8,425.3 223.7,425.6 224.7,424.8 225.6,424.9 226.6,425.4 227.5,424.1 228.5,423.9 229.4,424.0 230.4,423.3 231.3,424.8 232.3,423.9 233.2,424.0 234.2,422.0 235.1,422.4 236.1,420.7 237.0,420.8 238.0,422.6 238.9,423.4 239.8,421.9 240.8,422.2 241.7,421.9 242.7,422.6 243.6,420.9 244.6,420.9 245.5,420.5 246.5,420.3 247.4,421.3 248.4,422.6 249.3,420.7 250.3,420.6 251.2,420.3 252.2,418.7 253.1,419.3 254.1,417.7 255.0,418.6 256.0,418.1 256.9,418.0 257.8,417.6 258.8,419.4 259.7,417.2 260.7,417.7 261.6,418.7 262.6,417.2 263.5,417.2 264.5,416.2 265.4,416.5 266.4,416.8 267.3,418.8 268.3,415.7 269.2,415.4 270.2,416.0 271.1,416.3 272.1,415.5 273.0,417.4 274.0,416.0 274.9,416.4 275.8,417.4 276.8,416.2 277.7,415.9 278.7,414.5 279.6,414.9 280.6,417.5 281.5,418.1 282.5,416.3 283.4,416.1 284.4,416.7 285.3,417.5 286.3,417.1 287.2,418.7 288.2,419.1 289.1,418.2 290.1,418.6 291.0,419.6 292.0,420.1 292.9,419.3 293.9,417.2 294.8,419.2 295.7,417.2 296.7,419.4 297.6,419.5 298.6,419.1 299.5,420.9 300.5,420.8 301.4,422.1 302.4,419.9 303.3,418.7 304.3,419.9 305.2,418.9 306.2,419.0 307.1,420.3 308.1,415.3 309.0,416.3 310.0,415.9 310.9,416.2 311.9,416.3 312.8,414.0 313.7,417.7 314.7,416.7 315.6,416.5 316.6,416.1 317.5,415.1 318.5,416.3 319.4,417.1 320.4,417.0 321.3,415.4 322.3,414.7 323.2,414.7 324.2,413.9 325.1,415.9 326.1,414.7 327.0,414.8 328.0,415.7 328.9,416.4 329.9,414.9 330.8,416.2 331.8,416.0 332.7,416.7 333.6,414.1 334.6,415.5 335.5,416.1 336.5,415.9 337.4,415.7 338.4,415.3 339.3,416.9 340.3,416.5 341.2,414.7 342.2,413.7 343.1,415.5 344.1,414.6 345.0,415.0 346.0,416.6 346.9,414.8 347.9,415.2 348.8,413.2 349.8,413.9 350.7,413.7 351.6,415.0 352.6,413.5 353.5,415.4 354.5,413.5 355.4,412.1 356.4,414.5 357.3,412.8 358.3,412.0 359.2,413.4 360.2,412.4 361.1,413.2 362.1,413.9 363.0,415.5 364.0,414.8 364.9,415.1 365.9,411.4 366.8,412.9 367.8,413.5 368.7,414.8 369.6,412.0 370.6,414.4 371.5,412.1 372.5,412.2 373.4,413.2 374.4,414.1 375.3,413.6 376.3,414.8 377.2,413.0 378.2,411.7 379.1,412.3 380.1,412.3 381.0,414.0 382.0,413.2 382.9,414.4 383.9,414.1 384.8,412.8 385.8,410.9 386.7,413.0 387.7,413.4 388.6,415.3 389.5,413.6 390.5,414.5 391.4,415.2 392.4,415.5 393.3,414.1 394.3,414.5 395.2,413.7" fill="none" stroke="#C0504D" stroke-width="2.5" stroke-linejoin="round" stroke-linecap="round"/>
<polyline points="60.8,412.9 61.7,411.1 62.7,414.6 63.6,412.2 64.6,414.0 65.5,414.5 66.5,411.2 67.4,413.7 68.4,414.6 69.3,413.6 70.2,412.9 71.2,414.4 72.1,413.5 73.1,415.7 74.0,414.9 75.0,414.7 75.9,415.9 76.9,416.2 77.8,416.3 78.8,413.8 79.7,413.1 80.7,413.3 81.6,412.8 82.6,415.2 83.5,413.6 84.5,412.9 85.4,412.1 86.4,414.7 87.3,414.4 88.3,417.2 89.2,415.2 90.1,417.8 91.1,417.0 92.0,412.8 93.0,417.7 93.9,413.6 94.9,413.9 95.8,415.1 96.8,414.1 97.7,414.0 98.7,413.1 99.6,415.1 100.6,416.1 101.5,416.3 102.5,417.0 103.4,415.6 104.4,416.6 105.3,413.8 106.3,418.2 107.2,417.7 108.1,417.4 109.1,419.3 110.0,413.0 111.0,419.2 111.9,416.7 112.9,416.8 113.8,413.2 114.8,418.7 115.7,414.6 116.7,417.0 117.6,416.4 118.6,417.2 119.5,415.2 120.5,417.9 121.4,416.6 122.4,415.7 123.3,413.2 124.3,419.9 125.2,414.4 126.1,414.6 127.1,417.0 128.0,416.2 129.0,417.3 129.9,414.1 130.9,416.0 131.8,417.1 132.8,417.3 133.7,417.3 134.7,417.3 135.6,418.5 136.6,413.9 137.5,419.8 138.5,423.5 139.4,418.4 140.4,417.7 141.3,416.9 142.3,417.8 143.2,418.0 144.2,417.3 145.1,416.3 146.0,418.6 147.0,418.9 147.9,415.3 148.9,417.2 149.8,420.1 150.8,415.2 151.7,417.1 152.7,419.7 153.6,421.2 154.6,419.1 155.5,420.8 156.5,421.5 157.4,422.1 158.4,421.0 159.3,418.3 160.3,420.6 161.2,422.7 162.2,419.6 163.1,420.3 164.0,419.2 165.0,418.6 165.9,420.7 166.9,421.1 167.8,421.0 168.8,422.8 169.7,420.1 170.7,418.6 171.6,420.4 172.6,421.4 173.5,421.6 174.5,422.5 175.4,422.8 176.4,422.2 177.3,422.8 178.3,422.3 179.2,424.1 180.2,421.3 181.1,421.4 182.1,423.4 183.0,425.7 183.9,422.2 184.9,419.9 185.8,422.7 186.8,422.7 187.7,422.9 188.7,420.9 189.6,423.3 190.6,420.5 191.5,422.3 192.5,420.5 193.4,421.8 194.4,422.4 195.3,424.6 196.3,423.7 197.2,422.8 198.2,421.2 199.1,421.7 200.1,423.4 201.0,421.8 201.9,420.7 202.9,422.4 203.8,423.2 204.8,423.2 205.7,421.3 206.7,421.5 207.6,424.0 208.6,422.2 209.5,423.4 210.5,424.0 211.4,420.9 212.4,421.1 213.3,423.8 214.3,422.9 215.2,422.1 216.2,423.8 217.1,423.3 218.1,421.9 219.0,425.8 219.9,422.9 220.9,421.7 221.8,421.8 222.8,424.8 223.7,422.4 224.7,423.9 225.6,421.7 226.6,421.2 227.5,421.7 228.5,423.3 229.4,423.1 230.4,420.6 231.3,423.0 232.3,421.0 233.2,420.6 234.2,421.7 235.1,417.4 236.1,420.5 237.0,417.5 238.0,423.8 238.9,425.0 239.8,419.8 240.8,419.5 241.7,420.9 242.7,420.6 243.6,423.5 244.6,421.7 245.5,422.0 246.5,420.7 247.4,418.5 248.4,419.5 249.3,419.0 250.3,420.6 251.2,420.3 252.2,419.3 253.1,419.7 254.1,417.1 255.0,420.2 256.0,416.0 256.9,420.0 257.8,417.1 258.8,419.6 259.7,415.9 260.7,417.7 261.6,417.5 262.6,416.8 263.5,418.9 264.5,419.8 265.4,421.4 266.4,416.3 267.3,418.5 268.3,418.6 269.2,417.6 270.2,414.1 271.1,419.6 272.1,417.0 273.0,417.6 274.0,416.1 274.9,419.6 275.8,417.8 276.8,415.3 277.7,413.7 278.7,413.3 279.6,417.2 280.6,416.2 281.5,416.2 282.5,418.2 283.4,418.6 284.4,414.9 285.3,415.1 286.3,415.7 287.2,413.6 288.2,416.8 289.1,414.8 290.1,415.3 291.0,415.4 292.0,414.5 292.9,414.8 293.9,414.7 294.8,414.6 295.7,411.8 296.7,415.1 297.6,413.3 298.6,413.7 299.5,415.3 300.5,413.6 301.4,416.0 302.4,413.0 303.3,415.8 304.3,415.6 305.2,414.2 306.2,413.1 307.1,412.8 308.1,412.7 309.0,414.5 310.0,415.9 310.9,413.6 311.9,413.6 312.8,415.7 313.7,412.8 314.7,413.6 315.6,415.5 316.6,413.5 317.5,416.0 318.5,415.7 319.4,413.4 320.4,416.3 321.3,414.1 322.3,416.1 323.2,412.9 324.2,414.9 325.1,413.7 326.1,416.3 327.0,414.7 328.0,412.4 328.9,412.8 329.9,416.7 330.8,412.7 331.8,412.2 332.7,414.2 333.6,411.5 334.6,415.2 335.5,414.2 336.5,412.0 337.4,411.4 338.4,411.3 339.3,415.2 340.3,417.0 341.2,413.6 342.2,416.1 343.1,414.4 344.1,416.0 345.0,412.4 346.0,412.3 346.9,412.7 347.9,413.6 348.8,413.7 349.8,414.3 350.7,413.3 351.6,413.4 352.6,413.1 353.5,414.5 354.5,410.9 355.4,413.1 356.4,411.6 357.3,411.5 358.3,415.2 359.2,417.1 360.2,412.6 361.1,414.6 362.1,414.2 363.0,414.7 364.0,414.2 364.9,416.3 365.9,414.9 366.8,415.3 367.8,414.7 368.7,418.4 369.6,413.8 370.6,414.0 371.5,417.4 372.5,416.3 373.4,414.9 374.4,413.8 375.3,414.7 376.3,412.6 377.2,414.5 378.2,416.5 379.1,416.3 380.1,414.0 381.0,415.9 382.0,413.8 382.9,413.3 383.9,413.9 384.8,413.3 385.8,415.3 386.7,415.3 387.7,416.3 388.6,416.5 389.5,418.2 390.5,416.8 391.4,417.4 392.4,418.2 393.3,415.7 394.3,414.9 395.2,416.1" fill="none" stroke="#9BBB59" stroke-width="2.5" stroke-linejoin="round" stroke-linecap="round"/>
<polyline points="60.8,417.4 61.7,416.3 62.7,418.0 63.6,416.4 64.6,414.8 65.5,415.4 66.5,413.0 67.4,417.6 68.4,416.4 69.3,418.5 70.2,419.6 71.2,419.1 72.1,418.8 73.1,418.9 74.0,419.4 75.0,416.5 75.9,419.6 76.9,424.3 77.8,420.6 78.8,421.1 79.7,420.2 80.7,415.6 81.6,418.4 82.6,423.1 83.5,419.6 84.5,420.9 85.4,423.5 86.4,424.0 87.3,424.4 88.3,425.1 89.2,427.7 90.1,428.8 91.1,426.9 92.0,433.4 93.0,435.7 93.9,441.0 94.9,450.3 95.8,461.0 96.8,449.2 97.7,446.5 98.7,446.2 99.6,444.3 100.6,445.9 101.5,445.7 102.5,443.6 103.4,442.9 104.4,443.2 105.3,441.6 106.3,434.6 107.2,428.7 108.1,423.0 109.1,418.1 110.0,423.0 111.0,422.4 111.9,422.0 112.9,423.9 113.8,424.3 114.8,421.6 115.7,422.3 116.7,421.7 117.6,432.6 118.6,443.6 119.5,454.2 120.5,442.4 121.4,436.0 122.4,439.5 123.3,439.7 124.3,442.1 125.2,444.4 126.1,448.6 127.1,446.4 128.0,444.6 129.0,445.5 129.9,444.8 130.9,444.0 131.8,446.4 132.8,442.7 133.7,448.6 134.7,446.0 135.6,449.6 136.6,442.8 137.5,443.8 138.5,441.0 139.4,445.3 140.4,449.8 141.3,443.6 142.3,448.1 143.2,448.6 144.2,446.4 145.1,444.1 146.0,445.2 147.0,443.1 147.9,446.3 148.9,438.4 149.8,441.6 150.8,442.2 151.7,441.9 152.7,443.2 153.6,443.9 154.6,446.9 155.5,446.1 156.5,444.2 157.4,442.1 158.4,443.6 159.3,442.9 160.3,441.8 161.2,440.6 162.2,440.6 163.1,441.0 164.0,441.1 165.0,437.1 165.9,441.3 166.9,445.1 167.8,441.0 168.8,448.4 169.7,451.7 170.7,455.7 171.6,460.5 172.6,456.5 173.5,458.6 174.5,458.7 175.4,457.2 176.4,457.7 177.3,460.2 178.3,461.8 179.2,458.4 180.2,461.0 181.1,460.3 182.1,453.0 183.0,452.7 183.9,452.1 184.9,449.8 185.8,449.6 186.8,445.8 187.7,450.0 188.7,451.4 189.6,450.6 190.6,455.0 191.5,451.0 192.5,451.3 193.4,447.4 194.4,449.8 195.3,446.6 196.3,450.1 197.2,447.8 198.2,446.2 199.1,444.6 200.1,440.9 201.0,440.2 201.9,446.4 202.9,445.7 203.8,440.9 204.8,441.0 205.7,444.0 206.7,439.8 207.6,441.7 208.6,441.8 209.5,443.1 210.5,441.6 211.4,436.5 212.4,440.1 213.3,442.0 214.3,437.3 215.2,443.2 216.2,443.8 217.1,443.3 218.1,441.0 219.0,441.4 219.9,437.0 220.9,439.6 221.8,438.7 222.8,439.7 223.7,442.4 224.7,443.5 225.6,441.5 226.6,445.4 227.5,440.7 228.5,439.5 229.4,438.1 230.4,436.7 231.3,434.1 232.3,433.6 233.2,429.9 234.2,434.1 235.1,430.0 236.1,433.5 237.0,431.6 238.0,433.8 238.9,434.4 239.8,435.7 240.8,431.8 241.7,436.7 242.7,437.1 243.6,433.3 244.6,431.8 245.5,431.2 246.5,432.6 247.4,432.2 248.4,428.9 249.3,432.5 250.3,429.6 251.2,429.5 252.2,431.6 253.1,435.5 254.1,430.4 255.0,434.2 256.0,434.9 256.9,436.6 257.8,438.5 258.8,437.7 259.7,436.7 260.7,438.7 261.6,437.0 262.6,434.5 263.5,435.5 264.5,435.4 265.4,431.8 266.4,430.3 267.3,428.9 268.3,431.1 269.2,432.3 270.2,425.9 271.1,425.2 272.1,424.9 273.0,423.3 274.0,425.0 274.9,425.6 275.8,420.7 276.8,426.2 277.7,421.2 278.7,419.3 279.6,416.7 280.6,418.8 281.5,418.2 282.5,420.7 283.4,418.7 284.4,422.5 285.3,418.6 286.3,415.1 287.2,413.1 288.2,411.9 289.1,406.5 290.1,408.8 291.0,402.9 292.0,400.6 292.9,396.8 293.9,396.6 294.8,392.9 295.7,398.9 296.7,395.0 297.6,394.5 298.6,397.8 299.5,399.6 300.5,401.4 301.4,400.9 302.4,394.5 303.3,402.1 304.3,397.6 305.2,399.1 306.2,393.7 307.1,396.0 308.1,399.6 309.0,398.2 310.0,396.3 310.9,392.8 311.9,391.4 312.8,386.8 313.7,383.4 314.7,381.9 315.6,383.8 316.6,385.8 317.5,389.3 318.5,388.5 319.4,392.3 320.4,394.5 321.3,395.2 322.3,396.3 323.2,397.5 324.2,401.9 325.1,396.7 326.1,398.4 327.0,398.0 328.0,397.2 328.9,391.1 329.9,387.8 330.8,389.6 331.8,388.4 332.7,395.1 333.6,394.9 334.6,396.5 335.5,389.5 336.5,398.0 337.4,408.1 338.4,415.8 339.3,416.8 340.3,406.6 341.2,399.8 342.2,401.9 343.1,395.0 344.1,394.2 345.0,397.7 346.0,399.7 346.9,399.8 347.9,399.6 348.8,398.5 349.8,392.2 350.7,398.8 351.6,396.7 352.6,396.1 353.5,401.4 354.5,401.5 355.4,400.3 356.4,403.7 357.3,401.0 358.3,399.5 359.2,404.6 360.2,407.7 361.1,406.0 362.1,407.1 363.0,410.2 364.0,410.8 364.9,412.2 365.9,412.1 366.8,409.7 367.8,411.9 368.7,413.2 369.6,413.3 370.6,405.4 371.5,408.3 372.5,408.1 373.4,401.4 374.4,402.6 375.3,399.8 376.3,403.8 377.2,404.8 378.2,404.1 379.1,401.4 380.1,401.4 381.0,401.2 382.0,397.2 382.9,398.3 383.9,403.4 384.8,400.8 385.8,400.0 386.7,402.5 387.7,396.3 388.6,398.1 389.5,396.9 390.5,400.8 391.4,402.4 392.4,398.5 393.3,399.7 394.3,400.5 395.2,399.3" fill="none" stroke="#8064A2" stroke-width="2.5" stroke-linejoin="round" stroke-linecap="round"/>
<polyline points="60.8,401.4 61.7,401.7 62.7,397.7 63.6,403.7 64.6,399.8 65.5,403.9 66.5,397.1 67.4,398.1 68.4,392.4 69.3,387.4 70.2,386.2 71.2,390.1 72.1,393.5 73.1,391.8 74.0,394.6 75.0,393.0 75.9,390.5 76.9,391.5 77.8,392.7 78.8,383.5 79.7,382.9 80.7,380.4 81.6,379.9 82.6,382.2 83.5,383.1 84.5,384.1 85.4,379.5 86.4,383.2 87.3,383.6 88.3,382.6 89.2,379.7 90.1,384.3 91.1,385.9 92.0,379.5 93.0,387.3 93.9,386.4 94.9,384.2 95.8,380.6 96.8,387.4 97.7,392.0 98.7,386.1 99.6,388.1 100.6,388.6 101.5,387.5 102.5,388.5 103.4,389.1 104.4,391.4 105.3,388.6 106.3,388.3 107.2,391.9 108.1,394.0 109.1,392.1 110.0,392.9 111.0,396.8 111.9,396.6 112.9,393.7 113.8,396.3 114.8,397.6 115.7,397.1 116.7,397.9 117.6,398.3 118.6,403.0 119.5,395.9 120.5,398.6 121.4,400.8 122.4,389.6 123.3,382.9 124.3,379.1 125.2,377.4 126.1,374.8 127.1,378.6 128.0,377.3 129.0,375.6 129.9,380.0 130.9,377.6 131.8,372.4 132.8,375.1 133.7,370.3 134.7,364.2 135.6,361.9 136.6,360.5 137.5,363.5 138.5,355.1 139.4,360.8 140.4,363.7 141.3,367.0 142.3,374.7 143.2,377.6 144.2,379.9 145.1,375.7 146.0,383.4 147.0,385.6 147.9,385.2 148.9,383.0 149.8,382.5 150.8,382.6 151.7,385.7 152.7,390.0 153.6,382.8 154.6,380.9 155.5,377.9 156.5,379.7 157.4,380.5 158.4,377.8 159.3,381.0 160.3,380.0 161.2,379.4 162.2,376.2 163.1,371.4 164.0,373.1 165.0,369.7 165.9,368.7 166.9,366.0 167.8,371.2 168.8,375.5 169.7,382.8 170.7,381.2 171.6,381.5 172.6,377.3 173.5,377.4 174.5,377.9 175.4,378.6 176.4,384.2 177.3,383.5 178.3,383.6 179.2,390.8 180.2,391.0 181.1,389.3 182.1,388.8 183.0,381.4 183.9,381.4 184.9,378.6 185.8,378.7 186.8,379.5 187.7,391.8 188.7,389.4 189.6,391.2 190.6,396.5 191.5,398.3 192.5,396.3 193.4,394.3 194.4,394.3 195.3,395.2 196.3,403.1 197.2,405.0 198.2,402.9 199.1,407.9 200.1,415.8 201.0,418.7 201.9,423.7 202.9,426.7 203.8,424.6 204.8,428.2 205.7,426.8 206.7,429.8 207.6,450.0 208.6,446.4 209.5,433.3 210.5,434.8 211.4,433.9 212.4,425.9 213.3,423.4 214.3,419.8 215.2,415.3 216.2,420.8 217.1,415.6 218.1,418.4 219.0,420.2 219.9,419.8 220.9,416.1 221.8,419.7 222.8,425.2 223.7,425.6 224.7,420.9 225.6,421.1 226.6,425.4 227.5,417.7 228.5,422.5 229.4,427.2 230.4,430.5 231.3,433.0 232.3,430.1 233.2,430.1 234.2,432.6 235.1,432.4 236.1,433.6 237.0,429.9 238.0,429.7 238.9,427.0 239.8,429.2 240.8,428.5 241.7,429.8 242.7,431.2 243.6,431.9 244.6,432.2 245.5,433.1 246.5,429.4 247.4,428.0 248.4,429.4 249.3,423.9 250.3,422.0 251.2,418.1 252.2,420.5 253.1,420.0 254.1,420.2 255.0,417.7 256.0,416.2 256.9,416.2 257.8,416.8 258.8,414.6 259.7,415.6 260.7,415.9 261.6,419.0 262.6,417.3 263.5,419.9 264.5,419.0 265.4,415.8 266.4,410.1 267.3,410.9 268.3,413.0 269.2,413.8 270.2,411.3 271.1,410.0 272.1,410.2 273.0,413.9 274.0,414.0 274.9,415.7 275.8,416.2 276.8,417.1 277.7,415.0 278.7,418.2 279.6,415.8 280.6,411.0 281.5,413.3 282.5,410.2 283.4,413.7 284.4,412.0 285.3,409.9 286.3,412.7 287.2,412.2 288.2,404.8 289.1,410.6 290.1,411.4 291.0,411.1 292.0,409.5 292.9,409.3 293.9,407.0 294.8,407.1 295.7,409.8 296.7,410.1 297.6,412.5 298.6,413.0 299.5,411.4 300.5,407.9 301.4,408.6 302.4,407.0 303.3,406.3 304.3,408.6 305.2,403.7 306.2,408.7 307.1,409.5 308.1,409.0 309.0,405.3 310.0,407.4 310.9,409.0 311.9,406.4 312.8,404.6 313.7,407.3 314.7,408.2 315.6,405.4 316.6,405.4 317.5,405.6 318.5,409.7 319.4,408.1 320.4,407.8 321.3,412.8 322.3,406.9 323.2,408.7 324.2,410.1 325.1,404.7 326.1,408.8 327.0,411.6 328.0,410.7 328.9,409.3 329.9,408.8 330.8,410.8 331.8,413.1 332.7,413.3 333.6,413.9 334.6,414.8 335.5,413.0 336.5,414.1 337.4,413.4 338.4,415.6 339.3,416.3 340.3,415.2 341.2,415.8 342.2,412.8 343.1,417.3 344.1,415.8 345.0,416.5 346.0,419.8 346.9,416.0 347.9,417.0 348.8,422.6 349.8,417.8 350.7,416.7 351.6,420.9 352.6,416.3 353.5,428.9 354.5,432.0 355.4,424.2 356.4,421.4 357.3,421.1 358.3,423.8 359.2,419.3 360.2,421.2 361.1,418.6 362.1,417.9 363.0,419.0 364.0,418.5 364.9,412.5 365.9,411.4 366.8,414.0 367.8,417.2 368.7,419.5 369.6,418.9 370.6,414.0 371.5,415.4 372.5,416.9 373.4,418.8 374.4,415.3 375.3,416.2 376.3,413.5 377.2,410.7 378.2,408.8 379.1,410.3 380.1,411.2 381.0,409.7 382.0,405.6 382.9,407.8 383.9,412.1 384.8,406.1 385.8,408.2 386.7,401.2 387.7,408.7 388.6,408.5 389.5,408.5 390.5,406.6 391.4,408.1 392.4,410.0 393.3,410.9 394.3,406.7 395.2,406.5" fill="none" stroke="#1FB2EA" stroke-width="2.5" stroke-linejoin="round" stroke-linecap="round"/>
<polyline points="60.8,405.8 61.7,412.3 62.7,410.6 63.6,408.1 64.6,403.9 65.5,407.6 66.5,413.1 67.4,408.4 68.4,412.2 69.3,406.0 70.2,409.4 71.2,403.9 72.1,408.3 73.1,411.3 74.0,412.9 75.0,409.8 75.9,406.8 76.9,404.0 77.8,406.1 78.8,409.1 79.7,405.8 80.7,410.3 81.6,404.8 82.6,407.0 83.5,400.4 84.5,400.2 85.4,401.4 86.4,405.0 87.3,400.4 88.3,400.0 89.2,403.3 90.1,404.6 91.1,399.9 92.0,404.5 93.0,403.4 93.9,400.7 94.9,408.8 95.8,400.9 96.8,402.2 97.7,407.4 98.7,409.3 99.6,410.7 100.6,404.5 101.5,413.2 102.5,404.2 103.4,404.7 104.4,406.8 105.3,406.3 106.3,405.5 107.2,404.6 108.1,401.1 109.1,406.1 110.0,401.9 111.0,402.1 111.9,406.2 112.9,404.8 113.8,408.4 114.8,407.8 115.7,406.9 116.7,403.2 117.6,408.1 118.6,408.6 119.5,407.7 120.5,407.7 121.4,409.8 122.4,401.2 123.3,406.6 124.3,406.8 125.2,406.9 126.1,403.1 127.1,396.1 128.0,395.0 129.0,400.8 129.9,403.7 130.9,405.3 131.8,408.5 132.8,404.1 133.7,405.9 134.7,400.1 135.6,406.1 136.6,409.2 137.5,412.2 138.5,412.6 139.4,405.9 140.4,405.8 141.3,410.3 142.3,412.3 143.2,407.6 144.2,408.9 145.1,407.7 146.0,408.4 147.0,410.9 147.9,414.2 148.9,409.6 149.8,409.2 150.8,409.0 151.7,407.0 152.7,406.9 153.6,411.2 154.6,408.9 155.5,416.7 156.5,409.8 157.4,411.1 158.4,408.4 159.3,407.7 160.3,411.9 161.2,409.0 162.2,403.8 163.1,406.7 164.0,404.1 165.0,404.6 165.9,402.1 166.9,403.2 167.8,407.3 168.8,410.2 169.7,413.6 170.7,405.9 171.6,409.1 172.6,411.0 173.5,411.4 174.5,413.2 175.4,409.5 176.4,409.6 177.3,418.2 178.3,413.4 179.2,412.7 180.2,414.1 181.1,413.4 182.1,409.1 183.0,412.8 183.9,411.1 184.9,411.7 185.8,419.4 186.8,410.6 187.7,413.3 188.7,414.7 189.6,411.2 190.6,406.1 191.5,413.6 192.5,414.0 193.4,410.6 194.4,415.7 195.3,414.1 196.3,410.0 197.2,407.2 198.2,407.9 199.1,407.7 200.1,407.4 201.0,412.2 201.9,413.2 202.9,413.7 203.8,414.3 204.8,410.7 205.7,411.3 206.7,420.4 207.6,414.8 208.6,419.3 209.5,421.0 210.5,415.1 211.4,415.0 212.4,416.3 213.3,418.8 214.3,416.7 215.2,425.8 216.2,422.3 217.1,427.0 218.1,428.3 219.0,431.7 219.9,423.2 220.9,421.5 221.8,424.1 222.8,429.0 223.7,427.7 224.7,431.4 225.6,429.0 226.6,422.5 227.5,420.4 228.5,422.0 229.4,420.8 230.4,421.9 231.3,419.4 232.3,419.3 233.2,416.4 234.2,419.2 235.1,414.6 236.1,417.3 237.0,416.3 238.0,416.9 238.9,411.9 239.8,412.8 240.8,417.7 241.7,418.7 242.7,414.2 243.6,414.7 244.6,415.5 245.5,414.1 246.5,409.5 247.4,413.6 248.4,409.6 249.3,414.4 250.3,414.1 251.2,412.2 252.2,412.8 253.1,413.8 254.1,415.4 255.0,413.2 256.0,412.8 256.9,411.4 257.8,407.8 258.8,408.6 259.7,406.5 260.7,408.7 261.6,408.1 262.6,407.2 263.5,406.1 264.5,404.1 265.4,407.4 266.4,404.1 267.3,403.4 268.3,399.3 269.2,398.9 270.2,402.0 271.1,398.7 272.1,396.5 273.0,398.7 274.0,396.0 274.9,398.8 275.8,404.1 276.8,400.7 277.7,399.3 278.7,404.1 279.6,400.8 280.6,410.9 281.5,399.3 282.5,408.1 283.4,407.4 284.4,407.5 285.3,411.1 286.3,406.6 287.2,409.4 288.2,411.1 289.1,414.1 290.1,405.9 291.0,403.3 292.0,407.1 292.9,406.2 293.9,402.1 294.8,405.0 295.7,403.2 296.7,403.3 297.6,404.1 298.6,404.8 299.5,403.1 300.5,405.5 301.4,406.1 302.4,408.6 303.3,412.9 304.3,410.1 305.2,408.0 306.2,403.6 307.1,406.9 308.1,412.1 309.0,405.1 310.0,402.4 310.9,404.6 311.9,405.0 312.8,405.0 313.7,406.0 314.7,401.8 315.6,407.6 316.6,408.2 317.5,410.3 318.5,407.8 319.4,408.0 320.4,407.8 321.3,405.3 322.3,402.4 323.2,408.9 324.2,405.5 325.1,407.3 326.1,407.5 327.0,406.8 328.0,404.3 328.9,409.6 329.9,401.3 330.8,404.6 331.8,407.0 332.7,409.8 333.6,402.4 334.6,402.4 335.5,401.8 336.5,403.7 337.4,399.4 338.4,399.2 339.3,397.4 340.3,401.8 341.2,398.8 342.2,400.5 343.1,397.7 344.1,396.8 345.0,394.0 346.0,391.8 346.9,394.7 347.9,397.7 348.8,400.2 349.8,404.8 350.7,406.5 351.6,405.9 352.6,402.4 353.5,401.6 354.5,400.3 355.4,396.1 356.4,405.3 357.3,401.2 358.3,406.7 359.2,405.3 360.2,405.6 361.1,403.0 362.1,398.8 363.0,396.2 364.0,398.1 364.9,395.4 365.9,395.4 366.8,399.1 367.8,390.0 368.7,396.6 369.6,399.2 370.6,400.0 371.5,404.4 372.5,405.9 373.4,403.7 374.4,409.3 375.3,409.0 376.3,412.1 377.2,413.1 378.2,406.9 379.1,405.6 380.1,407.8 381.0,402.1 382.0,409.1 382.9,405.8 383.9,409.0 384.8,407.1 385.8,405.1 386.7,409.9 387.7,402.4 388.6,405.3 389.5,405.1 390.5,405.4 391.4,403.7 392.4,407.9 393.3,408.6 394.3,404.2 395.2,405.3" fill="none" stroke="#FFC000" stroke-width="2.5" stroke-linejoin="round" stroke-linecap="round"/>
<polyline points="60.8,405.4 61.7,403.3 62.7,405.2 63.6,405.8 64.6,407.7 65.5,405.9 66.5,401.9 67.4,403.3 68.4,401.9 69.3,403.9 70.2,403.9 71.2,404.5 72.1,409.9 73.1,403.6 74.0,403.7 75.0,403.7 75.9,410.1 76.9,411.2 77.8,409.0 78.8,407.5 79.7,405.1 80.7,405.8 81.6,404.3 82.6,407.5 83.5,405.3 84.5,404.7 85.4,407.7 86.4,401.4 87.3,403.8 88.3,402.4 89.2,407.4 90.1,408.6 91.1,407.7 92.0,406.9 93.0,404.7 93.9,405.5 94.9,407.7 95.8,409.5 96.8,408.6 97.7,403.5 98.7,408.6 99.6,406.4 100.6,405.6 101.5,411.1 102.5,407.6 103.4,403.6 104.4,412.6 105.3,409.2 106.3,408.1 107.2,410.1 108.1,406.7 109.1,407.9 110.0,412.2 111.0,406.4 111.9,406.1 112.9,405.3 113.8,403.9 114.8,406.9 115.7,408.1 116.7,412.4 117.6,407.7 118.6,410.6 119.5,410.7 120.5,413.0 121.4,412.6 122.4,411.3 123.3,406.0 124.3,414.7 125.2,414.4 126.1,409.6 127.1,405.5 128.0,407.4 129.0,414.8 129.9,417.7 130.9,410.0 131.8,412.0 132.8,413.4 133.7,407.7 134.7,406.5 135.6,409.1 136.6,409.3 137.5,408.8 138.5,405.5 139.4,407.8 140.4,408.6 141.3,408.8 142.3,415.1 143.2,408.1 144.2,408.2 145.1,409.7 146.0,417.2 147.0,414.7 147.9,410.4 148.9,417.5 149.8,419.0 150.8,420.7 151.7,429.2 152.7,420.3 153.6,420.7 154.6,421.5 155.5,419.1 156.5,420.1 157.4,423.6 158.4,423.0 159.3,429.8 160.3,432.6 161.2,432.8 162.2,438.9 163.1,442.8 164.0,439.1 165.0,437.8 165.9,429.4 166.9,419.1 167.8,411.3 168.8,412.8 169.7,415.0 170.7,411.2 171.6,414.6 172.6,406.2 173.5,409.8 174.5,406.5 175.4,408.0 176.4,411.6 177.3,410.6 178.3,410.6 179.2,409.8 180.2,408.3 181.1,405.1 182.1,405.1 183.0,402.1 183.9,406.1 184.9,412.6 185.8,420.3 186.8,430.7 187.7,420.3 188.7,413.4 189.6,412.2 190.6,412.1 191.5,410.7 192.5,407.5 193.4,410.4 194.4,408.4 195.3,403.4 196.3,414.3 197.2,411.0 198.2,405.7 199.1,403.8 200.1,404.7 201.0,407.2 201.9,405.0 202.9,406.2 203.8,409.2 204.8,401.7 205.7,407.0 206.7,409.7 207.6,407.9 208.6,407.1 209.5,405.7 210.5,413.2 211.4,409.0 212.4,404.9 213.3,411.4 214.3,408.5 215.2,400.5 216.2,395.5 217.1,389.8 218.1,402.1 219.0,403.0 219.9,405.9 220.9,402.9 221.8,400.8 222.8,410.9 223.7,401.3 224.7,406.8 225.6,402.2 226.6,408.9 227.5,406.1 228.5,403.8 229.4,408.4 230.4,408.0 231.3,404.6 232.3,404.5 233.2,403.8 234.2,397.7 235.1,397.1 236.1,401.9 237.0,394.7 238.0,405.5 238.9,401.9 239.8,405.5 240.8,405.7 241.7,404.8 242.7,406.5 243.6,406.0 244.6,412.5 245.5,413.9 246.5,407.4 247.4,409.5 248.4,408.7 249.3,408.6 250.3,399.5 251.2,398.6 252.2,395.3 253.1,400.5 254.1,396.3 255.0,396.9 256.0,389.4 256.9,386.2 257.8,392.8 258.8,386.8 259.7,387.6 260.7,393.7 261.6,403.0 262.6,396.4 263.5,400.6 264.5,403.8 265.4,401.8 266.4,401.0 267.3,397.5 268.3,403.9 269.2,398.4 270.2,396.6 271.1,397.5 272.1,403.3 273.0,406.7 274.0,403.1 274.9,406.0 275.8,406.4 276.8,402.8 277.7,407.1 278.7,413.6 279.6,409.2 280.6,412.2 281.5,404.3 282.5,403.9 283.4,405.8 284.4,403.7 285.3,400.3 286.3,401.3 287.2,397.2 288.2,399.9 289.1,396.5 290.1,394.1 291.0,393.9 292.0,400.7 292.9,397.6 293.9,405.3 294.8,404.6 295.7,407.3 296.7,399.3 297.6,405.1 298.6,402.8 299.5,403.3 300.5,402.8 301.4,404.0 302.4,401.6 303.3,396.5 304.3,400.4 305.2,399.2 306.2,396.6 307.1,398.7 308.1,401.1 309.0,398.6 310.0,392.6 310.9,398.5 311.9,397.1 312.8,393.0 313.7,393.6 314.7,396.6 315.6,395.4 316.6,397.6 317.5,402.4 318.5,404.9 319.4,403.2 320.4,398.8 321.3,402.4 322.3,403.9 323.2,403.7 324.2,405.9 325.1,402.1 326.1,404.6 327.0,400.6 328.0,407.7 328.9,401.1 329.9,402.9 330.8,406.7 331.8,399.4 332.7,400.9 333.6,406.5 334.6,403.2 335.5,399.2 336.5,400.5 337.4,396.9 338.4,396.2 339.3,396.1 340.3,396.8 341.2,393.8 342.2,395.1 343.1,395.6 344.1,402.7 345.0,395.0 346.0,392.5 346.9,397.1 347.9,398.7 348.8,392.4 349.8,402.4 350.7,397.9 351.6,392.0 352.6,401.0 353.5,398.1 354.5,394.7 355.4,400.2 356.4,399.5 357.3,398.8 358.3,404.2 359.2,403.0 360.2,402.1 361.1,400.6 362.1,403.0 363.0,404.0 364.0,406.6 364.9,405.3 365.9,401.7 366.8,403.6 367.8,406.8 368.7,407.4 369.6,397.6 370.6,400.3 371.5,401.8 372.5,411.0 373.4,402.9 374.4,401.7 375.3,397.8 376.3,400.5 377.2,402.0 378.2,400.3 379.1,406.7 380.1,398.7 381.0,397.1 382.0,397.7 382.9,389.8 383.9,385.1 384.8,391.4 385.8,391.8 386.7,391.0 387.7,393.0 388.6,396.7 389.5,400.7 390.5,393.5 391.4,395.9 392.4,403.2 393.3,405.3 394.3,397.4 395.2,398.8" fill="none" stroke="#E81C1C" stroke-width="2.5" stroke-linejoin="round" stroke-linecap="round"/>
<polyline points="60.8,398.0 61.7,394.2 62.7,397.2 63.6,398.3 64.6,400.0 65.5,401.3 66.5,401.5 67.4,403.5 68.4,405.3 69.3,405.8 70.2,406.3 71.2,403.2 72.1,402.0 73.1,400.1 74.0,402.6 75.0,403.9 75.9,403.7 76.9,404.9 77.8,408.5 78.8,402.3 79.7,404.1 80.7,402.4 81.6,402.6 82.6,395.4 83.5,398.3 84.5,400.6 85.4,404.6 86.4,401.1 87.3,404.7 88.3,401.1 89.2,406.6 90.1,403.8 91.1,400.8 92.0,403.7 93.0,401.6 93.9,401.4 94.9,400.6 95.8,404.3 96.8,403.1 97.7,400.7 98.7,409.1 99.6,410.0 100.6,408.4 101.5,411.6 102.5,414.6 103.4,410.1 104.4,410.8 105.3,410.0 106.3,410.5 107.2,414.7 108.1,420.6 109.1,421.0 110.0,412.1 111.0,415.0 111.9,413.4 112.9,412.5 113.8,414.9 114.8,412.4 115.7,406.6 116.7,407.0 117.6,412.6 118.6,411.1 119.5,411.1 120.5,410.6 121.4,410.8 122.4,413.3 123.3,414.5 124.3,412.7 125.2,417.8 126.1,412.4 127.1,412.2 128.0,419.8 129.0,436.1 129.9,413.4 130.9,409.3 131.8,412.3 132.8,408.2 133.7,406.4 134.7,410.9 135.6,412.4 136.6,413.0 137.5,413.0 138.5,408.3 139.4,405.0 140.4,408.1 141.3,408.4 142.3,414.3 143.2,414.1 144.2,417.9 145.1,419.8 146.0,420.9 147.0,423.6 147.9,417.1 148.9,412.2 149.8,411.1 150.8,401.3 151.7,404.2 152.7,402.4 153.6,401.7 154.6,402.9 155.5,402.2 156.5,402.3 157.4,403.9 158.4,399.6 159.3,400.2 160.3,402.0 161.2,400.4 162.2,400.6 163.1,400.1 164.0,402.2 165.0,401.1 165.9,401.9 166.9,398.9 167.8,403.5 168.8,401.4 169.7,404.7 170.7,403.1 171.6,399.6 172.6,404.3 173.5,403.4 174.5,404.9 175.4,405.0 176.4,405.3 177.3,404.5 178.3,402.6 179.2,401.2 180.2,403.0 181.1,400.9 182.1,404.2 183.0,401.2 183.9,403.3 184.9,406.1 185.8,406.5 186.8,404.6 187.7,405.2 188.7,404.0 189.6,405.9 190.6,404.8 191.5,405.3 192.5,408.0 193.4,404.5 194.4,402.2 195.3,401.4 196.3,396.5 197.2,391.9 198.2,394.0 199.1,398.2 200.1,402.3 201.0,401.0 201.9,402.1 202.9,400.9 203.8,398.8 204.8,401.4 205.7,405.0 206.7,400.0 207.6,402.3 208.6,400.0 209.5,404.7 210.5,398.4 211.4,405.6 212.4,404.0 213.3,402.5 214.3,409.7 215.2,407.2 216.2,408.7 217.1,402.3 218.1,403.9 219.0,408.1 219.9,410.7 220.9,411.5 221.8,408.0 222.8,409.9 223.7,408.1 224.7,410.1 225.6,412.9 226.6,405.9 227.5,407.7 228.5,410.4 229.4,410.1 230.4,406.5 231.3,407.0 232.3,411.5 233.2,406.4 234.2,410.2 235.1,408.4 236.1,412.1 237.0,411.6 238.0,408.6 238.9,412.5 239.8,410.5 240.8,409.7 241.7,412.0 242.7,408.0 243.6,409.2 244.6,411.2 245.5,409.2 246.5,408.9 247.4,410.3 248.4,414.6 249.3,414.3 250.3,416.3 251.2,418.8 252.2,415.8 253.1,408.8 254.1,412.1 255.0,408.3 256.0,405.0 256.9,408.6 257.8,408.0 258.8,409.1 259.7,406.3 260.7,409.2 261.6,405.7 262.6,407.6 263.5,402.3 264.5,401.2 265.4,395.3 266.4,397.3 267.3,404.8 268.3,415.1 269.2,406.2 270.2,409.4 271.1,405.9 272.1,404.7 273.0,407.6 274.0,409.0 274.9,412.9 275.8,408.9 276.8,405.7 277.7,412.3 278.7,408.7 279.6,409.4 280.6,409.2 281.5,413.4 282.5,412.0 283.4,411.0 284.4,407.8 285.3,413.1 286.3,413.6 287.2,414.6 288.2,411.7 289.1,414.6 290.1,409.3 291.0,408.2 292.0,403.4 292.9,397.7 293.9,406.0 294.8,410.7 295.7,413.8 296.7,412.5 297.6,412.0 298.6,412.9 299.5,409.7 300.5,408.1 301.4,410.5 302.4,407.6 303.3,408.1 304.3,409.1 305.2,407.8 306.2,405.9 307.1,405.6 308.1,403.8 309.0,407.2 310.0,408.7 310.9,413.4 311.9,413.0 312.8,411.9 313.7,416.7 314.7,418.4 315.6,414.2 316.6,418.3 317.5,419.3 318.5,419.6 319.4,414.8 320.4,405.1 321.3,406.3 322.3,402.9 323.2,401.7 324.2,405.0 325.1,404.6 326.1,406.0 327.0,407.8 328.0,405.5 328.9,409.4 329.9,410.1 330.8,410.4 331.8,406.8 332.7,409.5 333.6,404.7 334.6,410.1 335.5,409.8 336.5,413.4 337.4,411.1 338.4,409.3 339.3,408.4" fill="none" stroke="#000000" stroke-width="2.8" stroke-linejoin="round" stroke-linecap="round"/>
<line x1="100.5" y1="533.2" x2="122.5" y2="533.2" stroke="#5585BD" stroke-width="2.5"/>
<text x="124.5" y="536.4" font-size="9" text-anchor="start" fill="#595959" font-family='"Liberation Sans", sans-serif' >2018年</text>
<line x1="157.8" y1="533.2" x2="179.8" y2="533.2" stroke="#C0504D" stroke-width="2.5"/>
<text x="181.8" y="536.4" font-size="9" text-anchor="start" fill="#595959" font-family='"Liberation Sans", sans-serif' >2019年</text>
<line x1="215.1" y1="533.2" x2="237.1" y2="533.2" stroke="#9BBB59" stroke-width="2.5"/>
<text x="239.1" y="536.4" font-size="9" text-anchor="start" fill="#595959" font-family='"Liberation Sans", sans-serif' >2020年</text>
<line x1="272.4" y1="533.2" x2="294.4" y2="533.2" stroke="#8064A2" stroke-width="2.5"/>
<text x="296.4" y="536.4" font-size="9" text-anchor="start" fill="#595959" font-family='"Liberation Sans", sans-serif' >2021年</text>
<line x1="100.5" y1="549.9" x2="122.5" y2="549.9" stroke="#1FB2EA" stroke-width="2.5"/>
<text x="124.5" y="553.1" font-size="9" text-anchor="start" fill="#595959" font-family='"Liberation Sans", sans-serif' >2022年</text>
<line x1="157.8" y1="549.9" x2="179.8" y2="549.9" stroke="#FFC000" stroke-width="2.5"/>
<text x="181.8" y="553.1" font-size="9" text-anchor="start" fill="#595959" font-family='"Liberation Sans", sans-serif' >2023年</text>
<line x1="215.1" y1="549.9" x2="237.1" y2="549.9" stroke="#E81C1C" stroke-width="2.5"/>
<text x="239.1" y="553.1" font-size="9" text-anchor="start" fill="#595959" font-family='"Liberation Sans", sans-serif' >2024年</text>
<line x1="272.4" y1="549.9" x2="294.4" y2="549.9" stroke="#000000" stroke-width="2.5"/>
<text x="296.4" y="553.1" font-size="9" text-anchor="start" fill="#595959" font-family='"Liberation Sans", sans-serif' >2025年</text>
<g id="logo" fill="none" stroke-linecap="round" stroke-linejoin="round">
<rect x="970.8" y="11.3" width="84.8" height="25.4" fill="#BC9256" stroke="none"/>
<g transform="translate(845,9.5) scale(0.05593)" stroke="#AC9562" stroke-width="30">
<path d="M80,120 C45,250 45,400 70,520"/>
<path d="M120,95 C160,130 160,200 130,260 C105,320 110,430 150,520"/>
<path d="M205,110 C245,160 245,230 220,280 C200,340 200,430 230,520"/>
<path d="M300,135 L440,135 Q460,135 460,160 L460,220 Q460,245 440,245 L300,245 Q280,245 280,220 L280,160 Q280,135 300,135 Z M285,190 L455,190"/>
<path d="M290,290 C275,380 270,450 280,530 M330,300 C350,380 355,450 350,530 M405,290 C385,370 380,440 390,530 M450,290 C465,380 470,460 462,530"/>
<path d="M580,125 C555,250 550,400 580,520"/>
<path d="M625,95 C665,130 665,200 640,260 C615,330 620,430 660,520"/>
<path d="M720,95 C760,130 760,190 735,250 C715,320 720,420 760,500"/>
<path d="M785,195 L1005,185 M875,110 L880,280 M830,225 Q835,275 870,275 L985,270 Q1000,260 995,225 M930,290 C870,350 860,420 920,460 C960,490 1010,510 1045,525"/>
</g>
<g transform="translate(905,9.5) scale(0.06019)" stroke="#AC9562" stroke-width="28">
<path d="M95,140 L415,140"/>
<path d="M65,320 C130,200 380,180 465,300"/>
<path d="M255,150 C250,330 180,420 80,490"/>
<path d="M255,270 C330,350 400,430 460,490"/>
<path d="M570,150 L920,150"/>
<path d="M565,120 C580,250 580,380 545,460"/>
<path d="M600,235 L700,235 C700,330 690,400 660,470"/>
<path d="M800,75 C795,200 795,350 805,490"/>
<path d="M880,205 C850,260 820,320 780,380"/>
<path d="M810,290 C880,370 950,430 1025,460"/>
<path d="M900,60 L855,110"/>
</g>
<g transform="translate(965,8) scale(0.08795)" stroke="#FFF3DF" stroke-width="14">
<path d="M100,95 L200,95 M150,95 C135,170 115,220 92,250 M140,150 L195,150 L195,205 L140,205 Z"/>
<path d="M220,110 L345,110 M215,165 L350,165 M262,85 C262,170 255,230 235,300 M318,85 C318,170 320,240 325,300"/>
<path d="M535,70 L535,95 M430,150 C430,100 640,100 645,150 M500,125 C490,165 470,180 450,200 M570,125 C590,160 610,180 630,195 M475,205 L600,205 C600,260 610,290 645,300 M540,170 C540,230 500,280 450,300"/>
<path d="M730,85 L730,305 M730,85 C780,85 790,120 760,150 C800,170 800,220 760,230 M865,65 L865,90 M800,125 C800,90 940,90 950,125 M835,140 L920,140 M815,180 L945,180 M850,190 C850,250 830,280 810,300 M900,190 C900,270 910,295 950,300"/>
</g>
</g>
</svg>
</body></html>
